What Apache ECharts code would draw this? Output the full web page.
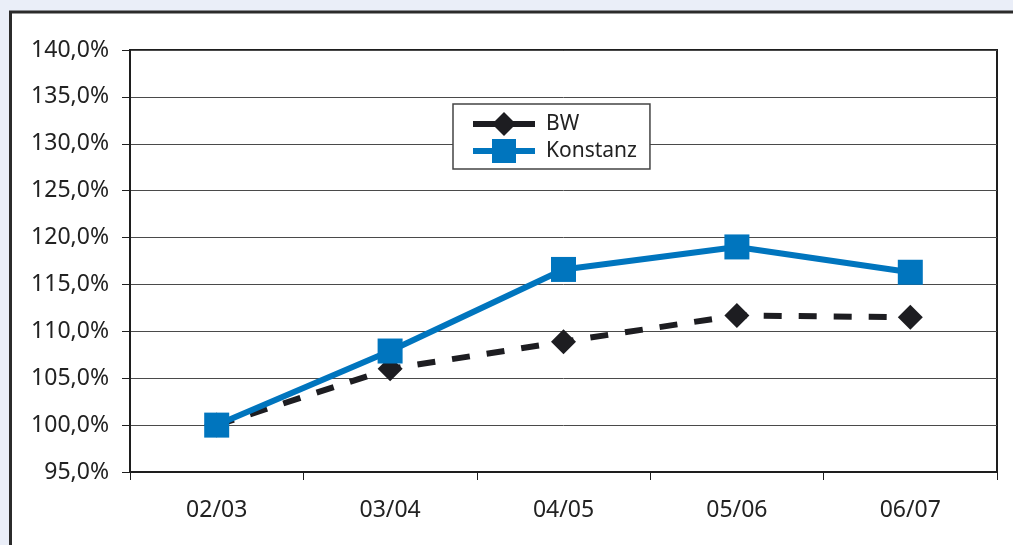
<!DOCTYPE html>
<html>
<head>
<meta charset="utf-8">
<script src="https://cdn.jsdelivr.net/npm/echarts@6/dist/echarts.min.js"></script>
<style>
  html, body { margin: 0; padding: 0; background: #eaeef8; }
  #chart { width: 1013px; height: 545px; }
</style>
</head>
<body>
<div id="chart"></div>
<script>
// School years on the x axis
const categories = ['02/03', '03/04', '04/05', '05/06', '06/07'];
// Index values in percent (02/03 = 100 %)
const bwValues = [100.0, 106.0, 108.9, 111.7, 111.5];
const konstanzValues = [100.0, 107.9, 116.6, 119.0, 116.3];
const seriesNames = ['BW', 'Konstanz'];

const FONT = '"Noto Sans", "Open Sans", sans-serif';
const TEXT_COLOR = '#222222';

const chart = echarts.init(document.getElementById('chart'), null, { renderer: 'canvas' });

chart.setOption({
  animation: false,
  backgroundColor: '#eaeef8',
  textStyle: { fontFamily: FONT, color: TEXT_COLOR },
  graphic: [{
    type: 'rect',
    z: -10,
    silent: true,
    shape: { x: 10.5, y: 12, width: 1100, height: 600 },
    style: { fill: '#ffffff', stroke: '#2b2b2b', lineWidth: 3 }
  }],
  grid: {
    left: 130, right: 16, top: 50, bottom: 73,
    show: true,
    borderColor: '#1e1e1e',
    borderWidth: 2,
    backgroundColor: 'transparent'
  },
  legend: {
    left: 453, top: 104,
    orient: 'vertical',
    backgroundColor: '#ffffff',
    borderColor: '#444444',
    borderWidth: 1.5,
    borderRadius: 0,
    padding: [8, 13, 6, 17],
    itemWidth: 62,
    itemHeight: 30,
    itemGap: 3,
    textStyle: { fontFamily: FONT, fontSize: 21, color: TEXT_COLOR, padding: [0, 0, 0, 6] },
    data: [
      { name: seriesNames[0], lineStyle: { type: 'solid', width: 6 } },
      { name: seriesNames[1], lineStyle: { width: 6 } }
    ]
  },
  xAxis: {
    type: 'category',
    data: categories,
    boundaryGap: true,
    axisLine: { show: true, lineStyle: { color: '#1e1e1e', width: 2 } },
    axisTick: { show: true, length: 8, lineStyle: { color: '#1e1e1e', width: 1 } },
    axisLabel: { fontFamily: FONT, fontSize: 23, color: TEXT_COLOR, margin: 27 },
    splitLine: { show: false }
  },
  yAxis: {
    type: 'value',
    min: 95,
    max: 140,
    interval: 5,
    axisLine: { show: true, lineStyle: { color: '#1e1e1e', width: 2 } },
    axisTick: { show: true, length: 8, lineStyle: { color: '#1e1e1e', width: 1 } },
    axisLabel: {
      fontFamily: FONT, fontSize: 23, color: TEXT_COLOR, margin: 21,
      formatter: v => v.toFixed(1).replace('.', ',') + '%'
    },
    splitLine: { show: true, lineStyle: { color: '#4a4a4a', width: 1 } }
  },
  series: [
    {
      name: seriesNames[0],
      type: 'line',
      data: bwValues,
      symbol: 'diamond',
      symbolSize: 25,
      z: 2,
      itemStyle: { color: '#1d1d21' },
      lineStyle: { color: '#1d1d21', width: 6, type: [18, 17] }
    },
    {
      name: seriesNames[1],
      type: 'line',
      data: konstanzValues,
      symbol: 'rect',
      symbolSize: 25,
      z: 3,
      itemStyle: { color: '#0075be' },
      lineStyle: { color: '#0075be', width: 6 }
    }
  ]
});
</script>
</body>
</html>
